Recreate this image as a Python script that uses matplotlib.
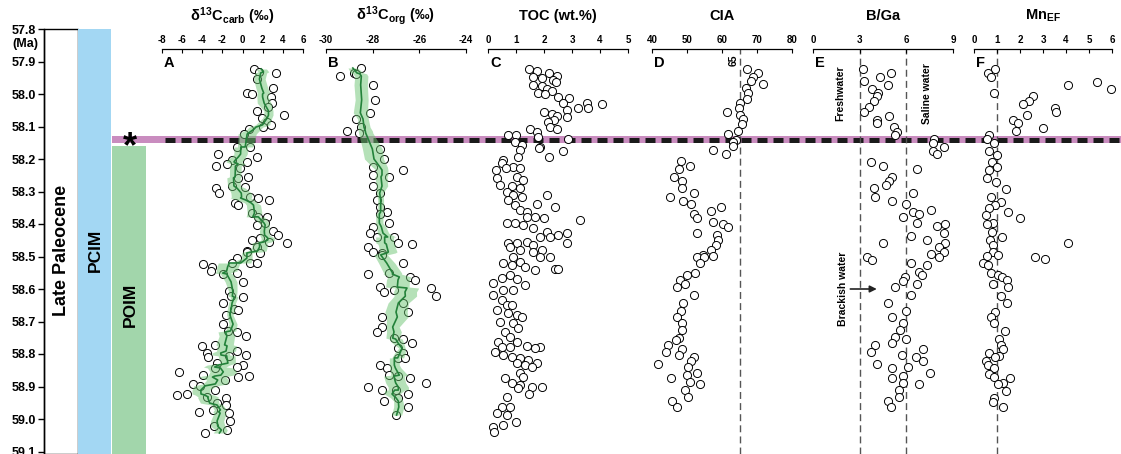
import matplotlib
matplotlib.use('Agg')
import matplotlib.pyplot as plt
from matplotlib.patches import Rectangle
import numpy as np
import pandas as pd

plt.rcParams['font.family'] = ['Liberation Sans', 'DejaVu Sans']
plt.rcParams['font.weight'] = 'bold'
plt.rcParams['axes.unicode_minus'] = False
plt.rcParams['mathtext.fontset'] = 'custom'
plt.rcParams['mathtext.rm'] = 'Liberation Sans:bold'
plt.rcParams['mathtext.it'] = 'Liberation Sans:bold'
plt.rcParams['mathtext.bf'] = 'Liberation Sans:bold'

# ---- data (age in Ma) ----
a_age = [57.923, 57.932, 57.935, 57.954, 57.982, 57.997, 58.000, 58.009, 58.028, 58.040,
         58.052, 58.065, 58.074, 58.086, 58.095, 58.102, 58.108, 58.123, 58.163, 58.163,
         58.185, 58.194, 58.203, 58.209, 58.215, 58.222, 58.228, 58.255, 58.258, 58.283,
         58.286, 58.289, 58.305, 58.317, 58.320, 58.326, 58.335, 58.342, 58.366, 58.378,
         58.378, 58.397, 58.403, 58.422, 58.434, 58.443, 58.449, 58.455, 58.458, 58.471,
         58.483, 58.486, 58.489, 58.505, 58.520, 58.520, 58.520, 58.523, 58.532, 58.545,
         58.551, 58.554, 58.578, 58.606, 58.622, 58.625, 58.643, 58.662, 58.665, 58.680,
         58.708, 58.729, 58.732, 58.745, 58.772, 58.775, 58.791, 58.797, 58.803, 58.806,
         58.809, 58.828, 58.834, 58.840, 58.843, 58.855, 58.865, 58.868, 58.871, 58.880,
         58.892, 58.898, 58.911, 58.923, 58.926, 58.932, 58.935, 58.951, 58.957, 58.972,
         58.978, 58.982, 59.006, 59.022, 59.034, 59.043]
a_d13c_carb = [1.1, 1.6, 3.3, 1.4, 3.0, 0.4, 0.9, 2.8, 2.9, 2.5,
               1.4, 4.1, 1.9, 2.4, 2.8, 2.0, 0.6, 0.1, -0.6, 0.7,
               -2.4, 1.4, -1.0, 0.4, -1.5, -2.6, -0.3, 0.5, -0.5, -1.0,
               0.2, -2.6, -2.3, 0.7, 1.5, 2.6, -0.8, -0.5, 0.9, 1.5,
               2.4, 2.2, 1.4, 3.0, 3.5, 1.7, 0.9, 2.6, 4.4, 1.4,
               0.4, 0.4, 1.7, -0.6, -1.0, 0.7, 1.4, -3.9, -3.0, -3.1,
               -0.6, -1.9, 0.0, -1.3, -1.1, 0.0, -1.9, -0.9, -0.5, -1.6,
               -1.9, -1.4, -0.6, 0.3, -2.7, -4.0, -0.6, -3.5, 0.3, -1.3,
               -3.4, -2.5, 0.0, -0.6, -2.7, -6.3, -3.9, 0.6, -0.5, -1.7,
               -4.9, -4.2, -2.7, -5.5, -6.5, -3.5, -1.6, -2.5, -1.6, -2.9,
               -4.3, -1.3, -1.2, -2.8, -1.5, -3.7]

b_age = [57.920, 57.935, 57.938, 57.945, 57.972, 58.018, 58.058, 58.077, 58.102, 58.114,
         58.120, 58.169, 58.200, 58.225, 58.234, 58.249, 58.255, 58.283, 58.305, 58.326,
         58.348, 58.363, 58.369, 58.397, 58.409, 58.428, 58.440, 58.440, 58.458, 58.462,
         58.471, 58.486, 58.489, 58.495, 58.520, 58.551, 58.554, 58.563, 58.572, 58.594,
         58.597, 58.603, 58.609, 58.622, 58.643, 58.671, 58.686, 58.717, 58.732, 58.751,
         58.754, 58.766, 58.782, 58.797, 58.812, 58.812, 58.834, 58.843, 58.865, 58.868,
         58.874, 58.889, 58.902, 58.911, 58.911, 58.923, 58.935, 58.945, 58.963, 58.988]
b_d13c_org = [-28.5, -28.8, -28.7, -29.4, -28.0, -27.9, -28.1, -28.7, -28.5, -29.1,
              -28.6, -27.7, -27.5, -28.0, -26.7, -28.0, -27.3, -28.0, -27.7, -27.8,
              -27.7, -27.4, -27.7, -27.3, -28.0, -28.1, -27.8, -27.1, -26.9, -26.3,
              -28.2, -28.0, -27.6, -27.6, -26.7, -27.3, -28.2, -26.4, -26.2, -27.7,
              -25.5, -27.1, -27.5, -25.3, -26.7, -26.5, -27.6, -27.6, -27.8, -27.1,
              -26.7, -26.3, -26.9, -26.7, -26.9, -26.6, -27.7, -27.4, -27.3, -26.9,
              -26.4, -25.7, -28.2, -27.6, -27.0, -26.5, -26.9, -27.5, -26.5, -27.0]

c_age = [57.923, 57.929, 57.935, 57.945, 57.948, 57.951, 57.957, 57.963, 57.972, 57.975,
         57.985, 57.991, 57.997, 58.000, 58.009, 58.012, 58.028, 58.028, 58.031, 58.043,
         58.043, 58.049, 58.055, 58.062, 58.068, 58.071, 58.080, 58.086, 58.102, 58.108,
         58.108, 58.117, 58.126, 58.126, 58.132, 58.138, 58.148, 58.157, 58.163, 58.166,
         58.172, 58.175, 58.194, 58.194, 58.203, 58.212, 58.225, 58.228, 58.228, 58.234,
         58.255, 58.258, 58.265, 58.280, 58.283, 58.289, 58.302, 58.311, 58.311, 58.317,
         58.326, 58.338, 58.342, 58.348, 58.357, 58.363, 58.378, 58.378, 58.382, 58.388,
         58.397, 58.397, 58.403, 58.412, 58.425, 58.428, 58.434, 58.440, 58.440, 58.455,
         58.458, 58.458, 58.458, 58.465, 58.471, 58.480, 58.480, 58.486, 58.502, 58.502,
         58.502, 58.517, 58.520, 58.526, 58.532, 58.538, 58.538, 58.542, 58.557, 58.566,
         58.569, 58.582, 58.588, 58.603, 58.603, 58.618, 58.634, 58.649, 58.649, 58.665,
         58.674, 58.680, 58.686, 58.702, 58.705, 58.720, 58.732, 58.748, 58.763, 58.763,
         58.775, 58.778, 58.778, 58.778, 58.782, 58.794, 58.803, 58.809, 58.812, 58.818,
         58.828, 58.828, 58.834, 58.840, 58.858, 58.871, 58.874, 58.889, 58.895, 58.902,
         58.902, 58.905, 58.923, 58.932, 58.963, 58.963, 58.982, 58.988, 59.009, 59.018,
         59.025, 59.040]
c_toc = [1.46, 1.75, 2.18, 2.46, 1.61, 1.93, 2.32, 2.43, 1.61, 1.93,
         2.11, 2.29, 1.79, 2.04, 2.50, 2.89, 2.68, 3.54, 4.07, 3.21,
         3.57, 2.82, 2.00, 2.29, 2.46, 2.82, 2.36, 2.14, 2.21, 2.46,
         1.50, 1.75, 0.71, 1.00, 1.79, 2.86, 0.96, 1.21, 1.86, 1.82,
         1.14, 2.68, 2.18, 1.07, 0.54, 0.50, 0.89, 0.64, 1.14, 0.29,
         1.04, 0.32, 1.25, 0.43, 0.86, 1.14, 0.68, 0.89, 2.11, 1.21,
         0.71, 1.75, 0.96, 2.39, 1.14, 1.39, 1.39, 1.68, 2.00, 3.29,
         0.68, 0.96, 1.25, 1.61, 2.11, 2.82, 2.50, 1.86, 2.21, 1.39,
         2.82, 0.71, 1.04, 1.61, 0.79, 1.93, 1.14, 1.61, 0.89, 1.86,
         2.21, 1.14, 0.54, 0.86, 1.32, 2.39, 2.50, 1.68, 0.79, 0.50,
         1.04, 0.18, 1.32, 0.54, 0.89, 0.18, 0.50, 0.68, 0.86, 0.32,
         0.71, 1.04, 1.21, 0.43, 0.89, 1.07, 0.61, 0.79, 0.36, 1.04,
         1.39, 0.50, 0.79, 1.86, 1.68, 0.25, 0.54, 0.86, 1.14, 1.43,
         1.04, 1.75, 1.32, 1.57, 1.14, 1.25, 0.61, 0.86, 1.14, 1.57,
         1.93, 1.07, 1.46, 0.68, 0.50, 0.79, 0.32, 0.68, 1.00, 0.54,
         0.18, 0.21]

d_age = [57.923, 57.935, 57.948, 57.960, 57.969, 57.982, 57.997, 58.015, 58.028, 58.043,
         58.055, 58.065, 58.077, 58.092, 58.114, 58.123, 58.142, 58.148, 58.160, 58.172,
         58.185, 58.206, 58.222, 58.231, 58.255, 58.268, 58.289, 58.305, 58.317, 58.329,
         58.338, 58.348, 58.360, 58.369, 58.382, 58.394, 58.400, 58.409, 58.428, 58.434,
         58.449, 58.465, 58.480, 58.495, 58.498, 58.502, 58.502, 58.520, 58.551, 58.557,
         58.572, 58.585, 58.594, 58.618, 58.643, 58.668, 58.686, 58.705, 58.726, 58.751,
         58.757, 58.772, 58.785, 58.794, 58.803, 58.809, 58.822, 58.831, 58.840, 58.858,
         58.865, 58.874, 58.886, 58.892, 58.911, 58.932, 58.945, 58.963]
d_cia = [67.1, 70.3, 68.9, 68.3, 71.7, 66.9, 67.4, 67.1, 65.1, 64.9,
         61.4, 65.1, 66.0, 65.7, 64.6, 61.7, 64.0, 63.1, 63.1, 57.4,
         61.1, 48.3, 50.9, 47.7, 46.3, 48.6, 48.6, 52.0, 45.1, 48.9,
         51.1, 59.7, 56.9, 52.0, 52.9, 57.4, 60.3, 61.7, 52.9, 58.6,
         58.9, 58.3, 56.9, 54.6, 57.4, 52.9, 54.9, 53.7, 52.3, 50.0,
         48.0, 49.4, 47.1, 52.0, 48.9, 48.3, 47.1, 48.6, 48.6, 47.7,
         46.9, 44.6, 48.6, 44.0, 47.7, 52.0, 51.1, 41.7, 50.3, 52.9,
         50.0, 45.4, 50.9, 53.7, 49.4, 50.3, 45.7, 47.1]

e_age = [57.923, 57.935, 57.948, 57.960, 57.972, 57.985, 57.997, 58.006, 58.021, 58.040,
         58.055, 58.068, 58.080, 58.089, 58.102, 58.117, 58.126, 58.138, 58.151, 58.163,
         58.175, 58.185, 58.209, 58.222, 58.231, 58.255, 58.268, 58.280, 58.289, 58.305,
         58.317, 58.329, 58.338, 58.357, 58.363, 58.369, 58.378, 58.397, 58.400, 58.406,
         58.428, 58.437, 58.449, 58.458, 58.458, 58.471, 58.486, 58.492, 58.502, 58.502,
         58.511, 58.520, 58.526, 58.548, 58.557, 58.563, 58.575, 58.585, 58.594, 58.618,
         58.643, 58.668, 58.686, 58.705, 58.726, 58.748, 58.754, 58.766, 58.772, 58.785,
         58.794, 58.803, 58.809, 58.822, 58.831, 58.840, 58.843, 58.858, 58.868, 58.874,
         58.889, 58.892, 58.911, 58.932, 58.945, 58.963]
e_bga = [3.2, 5.0, 4.3, 3.3, 4.8, 3.8, 4.2, 4.1, 3.9, 3.6,
         3.3, 4.9, 4.1, 4.1, 5.2, 5.4, 5.3, 7.8, 7.7, 8.4,
         7.7, 8.0, 3.7, 4.5, 6.7, 5.1, 4.9, 4.7, 3.9, 6.4,
         4.0, 5.1, 6.0, 7.6, 6.4, 6.8, 5.8, 6.7, 8.5, 8.0,
         8.4, 6.3, 7.3, 4.5, 8.5, 8.1, 8.4, 7.6, 8.1, 3.5,
         3.8, 6.3, 7.3, 6.8, 7.0, 5.9, 5.8, 6.7, 5.3, 6.3,
         4.8, 6.0, 5.1, 5.8, 5.6, 5.3, 6.0, 5.1, 4.0, 7.1,
         3.7, 5.7, 6.6, 7.1, 4.1, 6.1, 5.1, 7.5, 5.8, 5.1,
         5.8, 6.8, 5.5, 5.5, 4.8, 5.0]

f_age = [57.923, 57.935, 57.948, 57.963, 57.972, 57.985, 57.997, 58.006, 58.021, 58.031,
         58.043, 58.055, 58.065, 58.080, 58.089, 58.105, 58.114, 58.126, 58.138, 58.151,
         58.175, 58.188, 58.209, 58.225, 58.234, 58.258, 58.271, 58.292, 58.317, 58.332,
         58.342, 58.351, 58.363, 58.372, 58.382, 58.397, 58.400, 58.425, 58.440, 58.449,
         58.458, 58.465, 58.486, 58.495, 58.498, 58.502, 58.508, 58.520, 58.526, 58.551,
         58.557, 58.563, 58.572, 58.585, 58.594, 58.622, 58.643, 58.671, 58.686, 58.705,
         58.729, 58.754, 58.772, 58.785, 58.797, 58.806, 58.809, 58.822, 58.834, 58.843,
         58.862, 58.871, 58.874, 58.889, 58.892, 58.914, 58.935, 58.948, 58.963]
f_mnef = [0.91, 0.61, 0.74, 5.35, 4.09, 5.96, 0.87, 2.57, 2.39, 2.13,
          3.52, 3.57, 2.30, 1.70, 1.91, 3.00, 1.83, 0.65, 0.57, 0.87,
          0.65, 1.00, 0.78, 1.00, 0.65, 0.57, 0.96, 1.39, 0.74, 1.17,
          0.91, 0.65, 1.48, 0.52, 2.00, 0.83, 0.57, 0.78, 1.22, 0.70,
          4.09, 0.83, 0.83, 1.04, 0.57, 2.65, 3.09, 0.39, 0.61, 0.74,
          1.04, 1.22, 1.43, 0.83, 1.48, 1.17, 1.43, 0.91, 0.74, 0.87,
          1.35, 1.09, 1.17, 1.26, 0.65, 1.09, 0.91, 0.52, 0.61, 0.87,
          0.65, 0.87, 1.57, 1.26, 1.04, 1.39, 0.87, 0.83, 1.26]

BOUNDARY = 58.14

# ---- layout (pixel geometry of the 1121x454 canvas) ----
W, H = 1121, 454
AGE0, PX_PER_MA, Y0 = 57.8, 325.0, 29
def age_at(py):
    return AGE0 + (py - Y0) / PX_PER_MA
AGE_BOT = age_at(H)
AGE_FIGTOP = age_at(0)

fig = plt.figure(figsize=(W / 100, H / 100), dpi=100)

pink = '#c98cbf'
blue = '#a3d7f3'
green = '#a2d6ab'

# overlay for the boundary band spanning all panels
ov = fig.add_axes([0, 0, 1, 1], zorder=0)
ov.set_xlim(0, W)
ov.set_ylim(AGE_BOT, AGE_FIGTOP)
ov.axis('off')
ov.fill_between([112, W], BOUNDARY - 0.011, BOUNDARY + 0.011, color=pink, lw=0)
ov.plot([165, W], [BOUNDARY, BOUNDARY], color='#1a1a1a', lw=3.6, dashes=(2.0, 1.2))

# left stratigraphic column
axL = fig.add_axes([44 / W, 0, 102 / W, 1 - Y0 / H], zorder=1)
axL.set_facecolor('none')
axL.set_xlim(0, 102)
axL.set_ylim(AGE_BOT, AGE0)
for s in ['top', 'right', 'bottom']:
    axL.spines[s].set_visible(False)
axL.spines['left'].set_linewidth(1.0)
axL.set_xticks([])
yt = np.round(np.arange(57.8, 59.11, 0.1), 1)
axL.set_yticks(yt)
axL.set_yticklabels(['%.1f' % v for v in yt], fontsize=9, fontweight='bold')
axL.tick_params(axis='y', direction='out', length=4, width=1, pad=2)
axL.text(-6, 57.847, '(Ma)', ha='right', va='center', fontsize=9)
axL.add_patch(Rectangle((0, AGE0), 34, AGE_BOT - AGE0, facecolor='white',
                        edgecolor='black', lw=1.0, clip_on=False))
axL.add_patch(Rectangle((34, AGE0), 33, AGE_BOT - AGE0, facecolor=blue, lw=0))
axL.add_patch(Rectangle((68, 58.16), 34, AGE_BOT - 58.16, facecolor=green, lw=0))
axL.text(17, 58.48, 'Late Paleocene', rotation=90, ha='center', va='center', fontsize=13)
axL.text(51, 58.48, 'PCIM', rotation=90, ha='center', va='center', fontsize=12.5)
axL.text(86, 58.65, 'POIM', rotation=90, ha='center', va='center', fontsize=12.5)
axL.text(86, 58.165, '*', ha='center', va='center', fontsize=26)

AGE_AX = age_at(49)

def panel(x0, x1, xlim, ticks, ages, vals, title, letter):
    ax = fig.add_axes([x0 / W, 0, (x1 - x0) / W, 1 - 49 / H], zorder=2)
    ax.set_facecolor('none')
    ax.set_xlim(*xlim)
    ax.set_ylim(AGE_BOT, AGE_AX)
    for s in ['left', 'right', 'bottom']:
        ax.spines[s].set_visible(False)
    ax.spines['top'].set_linewidth(0.9)
    ax.xaxis.tick_top()
    ax.set_xticks(ticks)
    ax.set_xticklabels([str(t) for t in ticks], fontsize=7, fontweight='bold')
    ax.tick_params(axis='x', direction='in', length=3, width=0.8, pad=3)
    ax.set_yticks([])
    ax.scatter(vals, ages, s=34, facecolors='white', edgecolors='black',
               linewidths=0.7, zorder=3, clip_on=False)
    fig.text((x0 + x1) / 2 / W, 1 - 16 / H, title, ha='center', va='center', fontsize=10.5)
    fig.text((x0 + 2) / W, 1 - 63 / H, letter, ha='left', va='center', fontsize=10.5)
    return ax

def smooth(ax, ages, vals):
    s = pd.Series(vals, index=ages).sort_index()
    m = s.rolling(7, center=True, min_periods=3).mean()
    e = s.rolling(7, center=True, min_periods=3).std().fillna(0) / np.sqrt(7) * 1.4
    ax.fill_betweenx(m.index, m - e, m + e, color='#6cc472', alpha=0.5, lw=0, zorder=4)
    ax.plot(m.values, m.index, color='#23823a', lw=1.2, zorder=5)

axA = panel(162, 303, (-8, 6), list(range(-8, 7, 2)), a_age, a_d13c_carb,
            r'$\delta^{13}$C$_{carb}$ (‰)', 'A')
smooth(axA, a_age, a_d13c_carb)
axB = panel(326, 466, (-30, -24), [-30, -28, -26, -24], b_age, b_d13c_org,
            r'$\delta^{13}$C$_{org}$ (‰)', 'B')
smooth(axB, b_age, b_d13c_org)
axC = panel(488, 628, (0, 5), [0, 1, 2, 3, 4, 5], c_age, c_toc, 'TOC (wt.%)', 'C')
axD = panel(652, 792, (40, 80), [40, 50, 60, 70, 80], d_age, d_cia, 'CIA', 'D')
axE = panel(813, 953, (0, 9), [0, 3, 6, 9], e_age, e_bga, 'B/Ga', 'E')
axF = panel(974, 1112, (0, 6), [0, 1, 2, 3, 4, 5, 6], f_age, f_mnef, r'Mn$_{EF}$', 'F')

dash_kw = dict(color='#555555', lw=1.0, dashes=(5, 3), zorder=1)
axD.axvline(65, **dash_kw)
axD.text(63.3, 57.895, '65', rotation=90, ha='center', va='center', fontsize=7.5)
axE.axvline(3, **dash_kw)
axE.axvline(6, **dash_kw)
axF.axvline(1, **dash_kw)
axE.text(1.75, 57.997, 'Freshwater', rotation=90, ha='center', va='center', fontsize=7.5)
axE.text(7.33, 58.0, 'Saline water', rotation=90, ha='center', va='center', fontsize=7.5)
axE.text(1.9, 58.6, 'Brackish water', rotation=90, ha='center', va='center', fontsize=7.5)
axE.annotate('', xy=(4.1, 58.6), xytext=(2.4, 58.6),
             arrowprops=dict(arrowstyle='-|>', color='#222222', lw=1.2,
                             mutation_scale=10, shrinkA=0, shrinkB=0))

fig.savefig('out.png', dpi=100)
